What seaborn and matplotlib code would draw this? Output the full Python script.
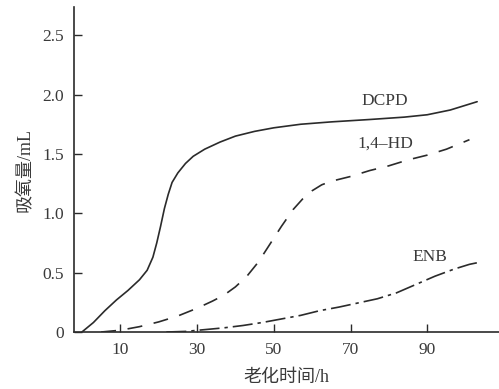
import matplotlib
matplotlib.use('Agg')
import matplotlib.pyplot as plt
import seaborn as sns

# DCPD
dcpd_x = [0, 3, 6, 9, 12, 15, 17, 18.5, 19.5, 20.5, 21.5, 22.5, 23.5, 25, 27, 29, 32, 36,
          40, 45, 50, 57, 65, 75, 84, 90, 96, 100, 103]
dcpd_y = [0, 0.08, 0.18, 0.27, 0.35, 0.44, 0.52, 0.63, 0.75, 0.89, 1.04, 1.16, 1.26, 1.34,
          1.42, 1.48, 1.54, 1.60, 1.65, 1.69, 1.72, 1.75, 1.77, 1.79, 1.81, 1.83, 1.87, 1.91, 1.94]

# 1,4-HD
hd_x = [5, 10, 15, 20, 25, 30, 34, 37, 40, 43, 46, 49, 52, 55, 57.5, 60, 62.5, 65, 70,
        75, 80, 85, 90, 95, 101]
hd_y = [0, 0.015, 0.045, 0.085, 0.135, 0.2, 0.26, 0.31, 0.38, 0.47, 0.59, 0.74, 0.89, 1.03,
        1.12, 1.19, 1.24, 1.27, 1.31, 1.36, 1.40, 1.45, 1.49, 1.54, 1.62]

# ENB
enb_x = [22, 27, 32, 37, 42, 47, 52, 57, 62, 67, 72, 77, 82, 87, 92, 97, 101, 104]
enb_y = [0, 0.005, 0.02, 0.035, 0.055, 0.08, 0.11, 0.14, 0.18, 0.21, 0.245, 0.28, 0.33,
         0.40, 0.47, 0.53, 0.57, 0.59]

x_ticks = [10, 30, 50, 70, 90]
y_ticks = [0, 0.5, 1.0, 1.5, 2.0, 2.5]
y_ticklabels = ['0', '0.5', '1.0', '1.5', '2.0', '2.5']

sns.set_style('ticks')
plt.rcParams['font.family'] = ['Liberation Serif', 'Noto Sans CJK SC']

line_c = '#2b2b2b'
text_c = '#3a3a3a'

fig = plt.figure(figsize=(4.99, 3.89), dpi=100)
ax = fig.add_axes([0.148, 0.1465, 0.852, 0.835])

sns.lineplot(x=dcpd_x, y=dcpd_y, ax=ax, color=line_c, lw=1.2, sort=False)
sns.lineplot(x=hd_x, y=hd_y, ax=ax, color=line_c, lw=1.2, sort=False,
             linestyle=(0, (9, 7)))
sns.lineplot(x=enb_x, y=enb_y, ax=ax, color=line_c, lw=1.2, sort=False,
             linestyle=(0, (12, 3, 2, 3)))

ax.text(79, 1.95, 'DCPD', ha='center', va='center', fontsize=12.5, color=text_c)
ax.text(79, 1.59, '1,4\u2013HD', ha='center', va='center', fontsize=12.5, color=text_c)
ax.text(90.7, 0.63, 'ENB', ha='center', va='center', fontsize=12.5, color=text_c)

ax.set_xlim(-2.1, 108.7)
ax.set_ylim(0, 2.736)
ax.set_xticks(x_ticks)
ax.set_yticks(y_ticks)
ax.set_yticklabels(y_ticklabels)
ax.tick_params(direction='in', length=5.5, width=1, color=line_c,
               labelsize=12.5, labelcolor=text_c, pad=7)
for s in ['left', 'bottom']:
    ax.spines[s].set_color(line_c)
    ax.spines[s].set_linewidth(1.2)
sns.despine(ax=ax)

ax.set_xlabel('老化时间/h', fontsize=13, color=text_c, labelpad=8)
ax.set_ylabel('吸氧量/mL', fontsize=13, color=text_c, labelpad=6)

fig.savefig('out.png', dpi=100)
